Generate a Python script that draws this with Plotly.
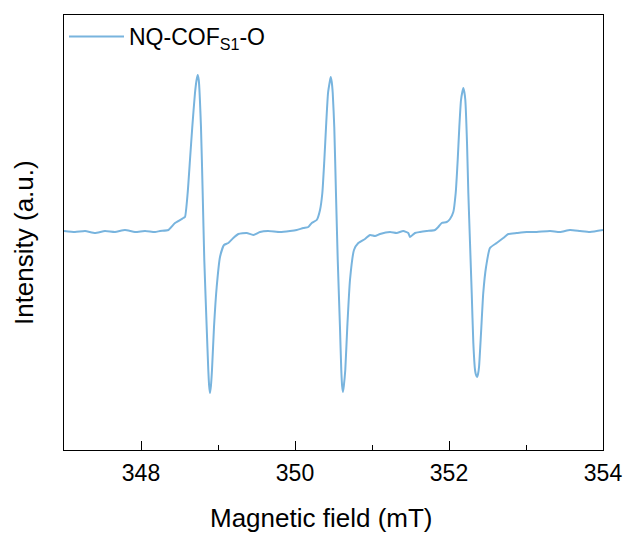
import plotly.graph_objects as go

# Magnetic field (mT)
field = [
    347.000, 347.143, 347.273, 347.403, 347.532, 347.662, 347.792, 347.922, 348.052, 348.182,
    348.247, 348.355, 348.442, 348.549, 348.571, 348.606, 348.636, 348.666, 348.701, 348.722,
    348.736, 348.750,
    348.779, 348.801, 348.822, 348.853, 348.874, 348.885, 348.896, 348.908, 348.922, 348.948,
    348.983, 349.026,
    349.078, 349.134, 349.199, 349.264, 349.373, 349.458, 349.545, 349.649, 349.805, 349.935,
    350.022, 350.108, 350.173, 350.217, 350.282, 350.325, 350.355, 350.381, 350.403, 350.429,
    350.451, 350.464, 350.477, 350.490, 350.510, 350.532, 350.555, 350.584, 350.601, 350.612,
    350.623, 350.634, 350.653, 350.679,
    350.714, 350.766, 350.822, 350.909, 350.974, 351.039, 351.104, 351.234, 351.321, 351.406,
    351.471, 351.494, 351.558, 351.623, 351.710, 351.818, 351.861, 351.905, 351.970, 352.013,
    352.056, 352.087, 352.113, 352.134, 352.156, 352.173, 352.186, 352.199, 352.212, 352.234,
    352.251, 352.273,
    352.295, 352.316, 352.338, 352.351, 352.364, 352.377, 352.390, 352.416, 352.445, 352.481,
    352.532, 352.619,
    352.705, 352.770, 352.879, 353.009, 353.139, 353.312, 353.442, 353.571, 353.701, 353.831,
    354.000,
]

# Intensity (a.u.)
intensity = [
    0, -1, 0, -2, 0, -1, 1, -1, 0, -1,
    0, 1, 8, 13, 14, 38, 71, 104, 138, 151,
    156, 151,
    104, 38, -29, -96, -139, -155, -162, -155, -139, -96,
    -56, -26,
    -14, -12, -7, -3, -2, -4, -1, 0, -1, 0,
    1, 3, 4, 8, 11, 21, 38, 71, 104, 138,
    149, 154, 149, 138, 104, 38, -29, -96, -139, -155,
    -161, -155, -139, -96,
    -49, -19, -12, -8, -4, -5, -3, -1, -2, 0,
    -2, -6, -2, -1, 0, 1, 4, 8, 9, 12,
    19, 38, 71, 104, 131, 139, 143, 139, 131, 88,
    38, -12,
    -62, -112, -139, -144, -146, -143, -136, -102, -62, -36,
    -17, -12,
    -7, -3, -2, -1, -1, 0, -1, 1, 0, -1,
    1,
]

x_ticks = [348, 350, 352, 354]
series_name = "NQ-COF<sub>S1</sub>-O"
x_title = "Magnetic field (mT)"
y_title = "Intensity (a.u.)"

fig = go.Figure()
fig.add_trace(go.Scatter(
    x=field, y=intensity, mode="lines", name=series_name,
    line=dict(color="#78B4DE", width=2, shape="spline", smoothing=0.5),
))

font_family = "Liberation Sans, Arial, sans-serif"
fig.update_layout(
    width=628, height=535,
    margin=dict(l=64, r=25, t=15, b=85),
    paper_bgcolor="white", plot_bgcolor="white",
    font=dict(family=font_family, color="black", size=23),
    showlegend=True,
    legend=dict(x=0.0, y=1.0, xanchor="left", yanchor="top",
                bgcolor="rgba(0,0,0,0)", font=dict(size=23), itemwidth=55,
                tracegroupgap=0),
    xaxis=dict(
        range=[347, 354], tickvals=x_ticks, ticktext=[str(v) for v in x_ticks],
        ticks="inside", ticklen=9, tickwidth=1.3, tickcolor="black",
        minor=dict(dtick=1, tick0=347, ticks="inside", ticklen=5, tickwidth=1.3, tickcolor="black"),
        showline=True, linecolor="black", linewidth=1.3, mirror=True,
        showgrid=False, zeroline=False, automargin=False,
        tickfont=dict(size=23), ticklabelstandoff=2,
    ),
    yaxis=dict(
        range=[-219, 216], showticklabels=False, ticks="",
        showline=True, linecolor="black", linewidth=1.3, mirror=True,
        showgrid=False, zeroline=False, automargin=False,
    ),
    annotations=[
        dict(text=x_title, xref="paper", yref="paper", x=0.477, y=-0.156,
             xanchor="center", yanchor="middle", showarrow=False,
             font=dict(size=26, family=font_family, color="black")),
        dict(text=y_title, xref="paper", yref="paper", x=-0.074, y=0.476,
             xanchor="center", yanchor="middle", showarrow=False, textangle=-90,
             font=dict(size=26, family=font_family, color="black")),
    ],
)

fig.write_html("out.html")
